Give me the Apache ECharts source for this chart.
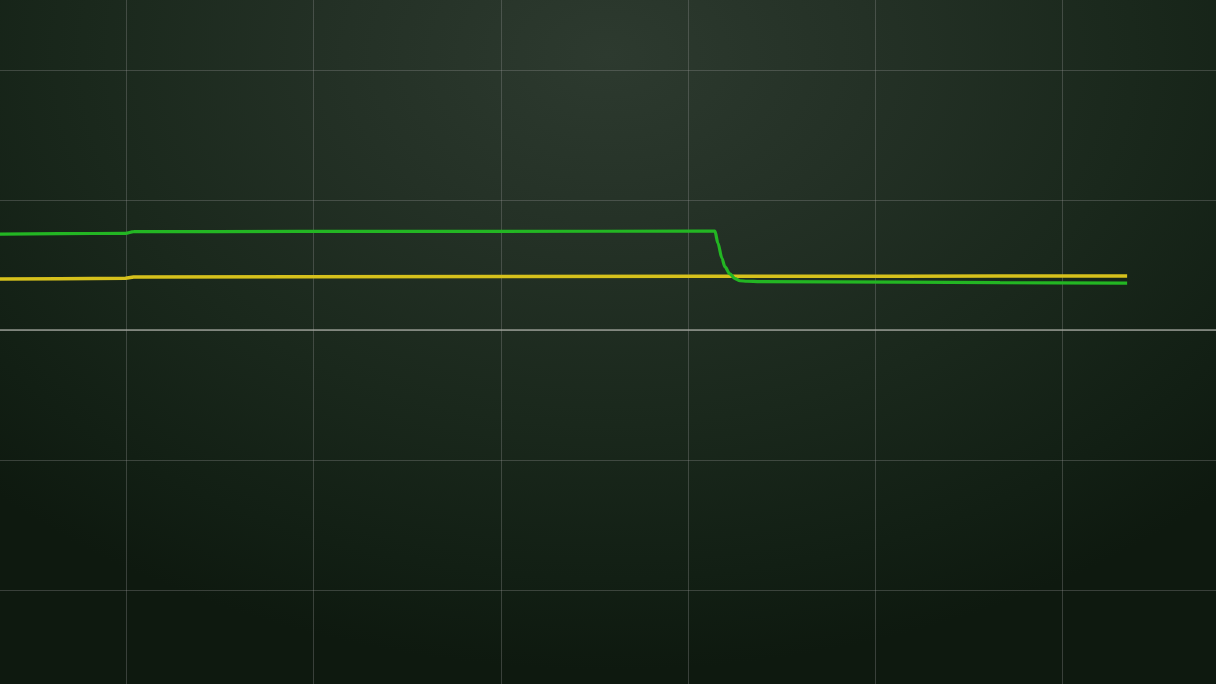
<!DOCTYPE html>
<html>
<head>
<meta charset="utf-8">
<script src="https://cdn.jsdelivr.net/npm/echarts@6/dist/echarts.min.js"></script>
<style>
html,body{margin:0;padding:0;width:1216px;height:684px;overflow:hidden;position:relative;
  background:radial-gradient(ellipse 72% 90% at 50% 8%, #2d3a2f 0%, #243126 30%, #1a281c 60%, #121f14 85%, #0e190f 100%);}
#chart{position:absolute;left:-61px;top:-60px;width:1311px;height:780px;}
</style>
</head>
<body>
<div id="chart"></div>
<script>
// Time axis in divisions, signal levels in divisions
const greenTime = [-1.0, -0.677, -0.356, -0.004, 0.039, 0.926, 1.994, 3.062, 3.143, 3.159, 3.180, 3.196, 3.223, 3.250, 3.276, 3.314, 3.383, 4.131, 4.665, 5.344];
const greenLevel = [0.735, 0.738, 0.741, 0.744, 0.756, 0.759, 0.759, 0.760, 0.760, 0.669, 0.554, 0.487, 0.431, 0.395, 0.379, 0.375, 0.372, 0.369, 0.364, 0.361];
const yellowTime = [-1.0, -0.677, -0.356, -0.004, 0.039, 0.926, 1.994, 3.062, 4.131, 4.665, 5.344];
const yellowLevel = [0.390, 0.392, 0.395, 0.398, 0.408, 0.410, 0.411, 0.413, 0.414, 0.415, 0.416];
const xTicks = [-1, 0, 1, 2, 3, 4, 5, 6];
const yTicks = [-3, -2, -1, 0, 1, 2, 3];

const greenData = greenTime.map((t, i) => [t, greenLevel[i]]);
const yellowData = yellowTime.map((t, i) => [t, yellowLevel[i]]);

const chart = echarts.init(document.getElementById('chart'), null, {renderer: 'canvas'});
chart.setOption({
  animation: false,
  backgroundColor: 'transparent',
  grid: {left: 0, right: 0, top: 0, bottom: 0, containLabel: false},
  xAxis: {
    type: 'value', min: xTicks[0], max: xTicks[xTicks.length - 1], interval: 1,
    axisLabel: {show: false}, axisTick: {show: false},
    axisLine: {show: true, onZero: true, lineStyle: {color: 'rgba(170,172,165,0.62)', width: 2}},
    splitLine: {show: true, lineStyle: {color: 'rgba(150,150,150,0.32)', width: 1}}
  },
  yAxis: {
    type: 'value', min: yTicks[0], max: yTicks[yTicks.length - 1], interval: 1,
    axisLabel: {show: false}, axisTick: {show: false}, axisLine: {show: false},
    splitLine: {show: true, lineStyle: {color: 'rgba(150,150,150,0.32)', width: 1}}
  },
  series: [
    {
      type: 'line', data: yellowData, showSymbol: false, symbol: 'none',
      lineStyle: {color: '#d6c11c', width: 3.5}, z: 3
    },
    {
      type: 'line', data: greenData, showSymbol: false, symbol: 'none',
      smooth: 0.3, smoothMonotone: 'x',
      lineStyle: {color: '#23b623', width: 3.2}, z: 4
    }
  ]
});
</script>
</body>
</html>
